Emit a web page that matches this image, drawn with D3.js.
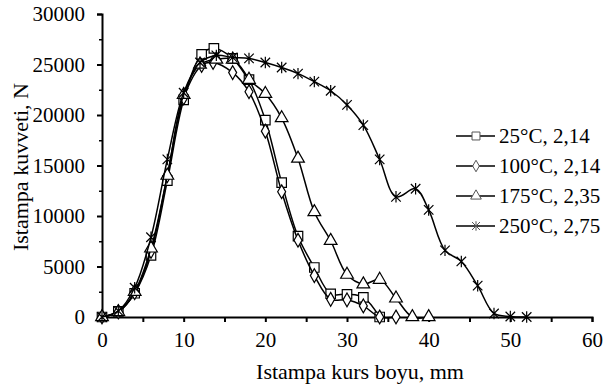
<!DOCTYPE html>
<html>
<head>
<meta charset="utf-8">
<script src="https://cdn.jsdelivr.net/npm/d3@7"></script>
<style>
  body { margin: 0; background: #fff; }
</style>
</head>
<body>
<div id="rootDiv"></div>
<script>
// values
const names = ["25°C, 2,14", "100°C, 2,14", "175°C, 2,35", "250°C, 2,75"]
const symbols = ["square", "diamond", "triangle", "asterisk"]

const x25 = [0, 2, 4, 6, 8, 10, 12.2, 13.7, 16, 18, 20, 22, 24, 26, 28, 30, 32, 34]
const y25 = [0, 550, 2350, 6100, 13500, 21500, 26000, 26600, 25600, 23500, 19500, 13300, 8000, 4900, 2300, 2250, 1950, 0]

const x100 = [0, 2, 4, 6, 8, 10, 12.2, 13.6, 16, 18, 20, 22, 24, 26, 28, 30, 32, 34, 36]
const y100 = [0, 500, 2400, 6500, 14000, 21700, 24900, 25200, 24200, 22300, 18400, 12400, 7600, 4100, 1750, 1700, 1100, 0, 0]

const x175 = [0, 2, 4, 6, 8, 10, 12, 14, 16, 18, 20, 22, 24, 26, 28, 30, 32, 34, 36, 38, 40]
const y175 = [0, 500, 2500, 6800, 14000, 22000, 25000, 25500, 25500, 23500, 22100, 19700, 15700, 10400, 7550, 4200, 3250, 3700, 1850, 0, 0]

const x250 = [0, 2, 4, 6, 8, 10, 12, 14, 16, 18, 20, 22, 24, 26, 28, 30, 32, 34, 36, 38.4, 40, 42, 44, 46, 48, 50, 52]
const y250 = [0, 600, 2900, 7900, 15600, 22200, 25200, 25900, 25700, 25600, 25200, 24700, 24100, 23300, 22400, 21000, 19000, 15600, 11900, 12700, 10600, 6600, 5500, 3100, 350, 50, 0]

const xTicks = [0, 10, 20, 30, 40, 50, 60]
const yTicks = [0, 5000, 10000, 15000, 20000, 25000, 30000]

const seriesX = [x25, x100, x175, x250]
const seriesY = [y25, y100, y175, y250]

const width = 603
const height = 387
const margin = { top: 14, right: 11, bottom: 70, left: 102 }
const serif = "Liberation Serif"

const svg = d3.select(document.getElementById("rootDiv"))
    .append("svg")
    .attr("width", width)
    .attr("height", height)

const x = d3.scaleLinear()
    .domain([0, 60])
    .range([margin.left, width - margin.right])

const y = d3.scaleLinear()
    .domain([0, 30000])
    .range([height - margin.bottom, margin.top])

// axes
const xAxis = svg.append("g")
    .attr("transform", `translate(0,${y(0)})`)
    .call(d3.axisBottom(x).tickValues(d3.range(0, 61, 5)).tickSize(5).tickPadding(10)
        .tickFormat(d => xTicks.includes(d) ? d : ""))

const yAxis = svg.append("g")
    .attr("transform", `translate(${x(0)},0)`)
    .call(d3.axisLeft(y).tickValues(yTicks).tickSize(5).tickPadding(12).tickFormat(d3.format("d")))

svg.append("g")
    .attr("transform", `translate(${x(0)},0)`)
    .call(d3.axisLeft(y).tickValues(d3.range(2500, 30000, 5000)).tickSize(3).tickFormat(""))
    .call(g => g.select(".domain").remove())
    .selectAll("line").style("stroke", "#000").style("stroke-width", 1.5)

for (const axis of [xAxis, yAxis]) {
    axis.select(".domain").style("stroke", "#000").style("stroke-width", 2)
    axis.selectAll("line").style("stroke", "#000").style("stroke-width", 2)
    axis.selectAll("text")
        .style("font-family", serif)
        .style("font-size", "21px")
        .style("fill", "#000")
}

const star = {
    draw(ctx, size) {
        const r = Math.sqrt(size) / 2
        ctx.moveTo(-r, -r); ctx.lineTo(r, r)
        ctx.moveTo(-r, r); ctx.lineTo(r, -r)
        ctx.moveTo(0, -r * 1.2); ctx.lineTo(0, r * 1.2)
    }
}
const symbolType = {
    square: d3.symbolSquare,
    diamond: d3.symbolDiamond,
    triangle: d3.symbolTriangle,
    asterisk: star
}
const symbolSize = { square: 90, diamond: 55, triangle: 70, asterisk: 90 }

const line = d3.line()
    .x(d => x(d[0]))
    .y(d => y(d[1]))
    .curve(d3.curveCatmullRom.alpha(0.5))

seriesX.forEach((xs, i) => {
    const pts = xs.map((v, j) => [v, seriesY[i][j]])
    const g = svg.append("g")
    g.append("path")
        .attr("d", line(pts))
        .attr("fill", "none")
        .attr("stroke", "#000")
        .attr("stroke-width", 1.5)
    g.selectAll("path.pt")
        .data(pts)
        .enter()
        .append("path")
        .attr("class", "pt")
        .attr("transform", d => `translate(${x(d[0])},${y(d[1])})`)
        .attr("d", d3.symbol(symbolType[symbols[i]], symbolSize[symbols[i]]))
        .attr("fill", symbols[i] === "asterisk" ? "none" : "#fff")
        .attr("stroke", "#000")
        .attr("stroke-width", 1.2)
})

// legend
const legend = svg.append("g").attr("transform", "translate(456,136)")
names.forEach((n, i) => {
    const row = legend.append("g").attr("transform", `translate(0,${i * 30})`)
    row.append("line")
        .attr("x1", 0).attr("x2", 39)
        .attr("stroke", "#000").attr("stroke-width", 1.5)
    row.append("path")
        .attr("transform", "translate(20,0)")
        .attr("d", d3.symbol(symbolType[symbols[i]], symbolSize[symbols[i]] * 0.7))
        .attr("fill", symbols[i] === "asterisk" ? "none" : "#fff")
        .attr("stroke", "#555")
        .attr("stroke-width", 1)
    row.append("text")
        .attr("x", 43)
        .attr("dy", "0.33em")
        .style("font-family", serif)
        .style("font-size", "21px")
        .text(n)
})

// axis titles
svg.append("text")
    .attr("x", 360)
    .attr("y", 379)
    .attr("text-anchor", "middle")
    .style("font-family", serif)
    .style("font-size", "22px")
    .text("Istampa kurs boyu, mm")

svg.append("text")
    .attr("transform", `translate(28,167) rotate(-90)`)
    .attr("text-anchor", "middle")
    .style("font-family", serif)
    .style("font-size", "22px")
    .text("Istampa kuvveti, N")
</script>
</body>
</html>
